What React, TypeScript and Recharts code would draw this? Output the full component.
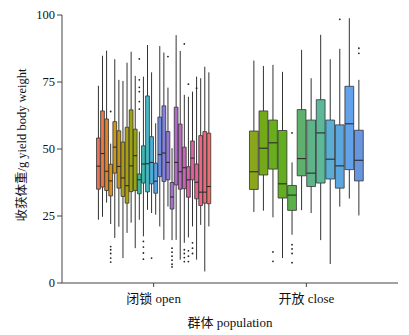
import React from 'react';
import {
  ComposedChart,
  XAxis,
  YAxis,
  Scatter,
  ReferenceArea,
  ReferenceLine,
} from 'recharts';

const FONT = "'Liberation Serif', 'Noto Sans CJK SC', serif";

const groups = ['闭锁 open', '开放 close'];
const yTicks = [0, 25, 50, 75, 100];

// 闭锁 open: 28 families
const openLower = [23.6, 24.7, 30, 22, 16.8, 21, 9.3, 18.7, 22.5, 13, 23.6, 17.4, 27.3, 26.1, 25.5, 21.1, 16.1, 28.5, 16, 16.1, 8.7, 15, 17, 21.1, 8.7, 21.7, 4.3, 21.1];
const openQ1 = [35, 35.8, 34.5, 32.5, 41, 35.4, 32.3, 29.8, 34.1, 34.5, 33.3, 37.3, 34, 37, 33.5, 39.7, 37.9, 38.5, 27.6, 36.6, 35, 35.2, 32, 38.5, 31.4, 28.9, 29.8, 29.6];
const openMedian = [43.6, 48.3, 41.7, 38.1, 50.7, 43.5, 39.2, 36.3, 43.7, 47.5, 38.5, 44.4, 44.5, 45, 38, 47.9, 48.5, 45, 32.1, 45, 41.5, 43, 38.5, 46.6, 37.6, 33.9, 33.9, 36];
const openQ3 = [54.1, 64.2, 61.2, 44.3, 60.2, 56.8, 52.6, 58.1, 64.6, 57.4, 40.7, 51.2, 69.8, 54.6, 44.7, 61.9, 66.1, 56.5, 37.5, 65.6, 59.3, 50.7, 43.4, 53, 44.4, 55, 56.5, 55.9];
const openUpper = [73.6, 84.8, 86.7, 52, 83.5, 75.8, 75.4, 82.2, 86.3, 77.3, 56.5, 77, 88.8, 78.6, 59.6, 88.4, 86, 72.9, 50.3, 92.5, 86.6, 70.2, 69.5, 71.4, 77, 76.4, 80.7, 78.6];
// [family index, value]
const openOutliers: [number, number][] = [
  [3, 64], [3, 13.6], [3, 12.4], [3, 11], [3, 9.3], [3, 7.8],
  [10, 83.6], [10, 75.8], [10, 73], [10, 71.4], [10, 67.7], [10, 64.9],
  [11, 15.5], [11, 13.4], [11, 11.2], [11, 8.9],
  [13, 9.3],
  [17, 84.5],
  [18, 13], [18, 11.5], [18, 10], [18, 8.5], [18, 7], [18, 6],
  [21, 89.2], [21, 12.4], [21, 11], [21, 9.5], [21, 8],
  [22, 74.2], [22, 12], [22, 10], [22, 8],
  [23, 15], [23, 13], [23, 11],
  [24, 72.7],
];

// 开放 close: 12 families
const closeLower = [26.5, 27, 24.5, 9.3, 18, 27.2, 26.1, 16, 7.1, 28.5, 31.5, 25.2];
const closeQ1 = [34.9, 40.3, 42.5, 31.7, 27.1, 40, 36, 37.3, 38.8, 35.4, 42.3, 38.1];
const closeMedian = [41.5, 50.3, 52.3, 37, 32.8, 46.4, 41, 56, 46.2, 43.7, 59.4, 45.8];
const closeQ3 = [56.7, 64.2, 60.8, 56.9, 36.4, 64.7, 60.8, 68.4, 60.8, 59, 73.4, 57];
const closeUpper = [83, 81, 81.4, 78.8, 45, 87, 76.4, 92.6, 83.5, 87.4, 98.8, 75.8];
const closeOutliers: [number, number][] = [
  [2, 11.6], [2, 8.1],
  [4, 56], [4, 14.3], [4, 12.7], [4, 11], [4, 7.6],
  [9, 98.4],
  [11, 87.6], [11, 85.7],
];

const openColors = [
  '#E8735E', '#E97B4A', '#E0842A', '#D8901C', '#CF961A', '#C09515', '#B49A12',
  '#A8A014', '#9CA412', '#96A318', '#3DB59A', '#3CB8AE', '#48B8C8', '#4AB0D8',
  '#56A0E4', '#6E8CE2', '#8282DC', '#9478D4', '#A070CC', '#AE6CC6', '#BB68C0',
  '#C864B6', '#D461AC', '#DE62A0', '#E66494', '#EC6686', '#EE6A7A', '#EE6E6E',
];
const closeColors = [
  '#8AA61C', '#74AA1A', '#6AAE20', '#62AE1E', '#5CB04C', '#5EB06C',
  '#5EB488', '#5CB898', '#5AAED6', '#5CA6E0', '#62A2EA', '#6896DE',
];

const DODGE = 0.75;

function buildBoxes(
  groupPos: number,
  lower: number[], q1: number[], median: number[], q3: number[], upper: number[],
  colors: string[],
) {
  const n = median.length;
  const step = DODGE / n;
  return median.map((m, i) => ({
    x: groupPos + (i + 0.5 - n / 2) * step,
    half: (step * 0.92) / 2,
    lower: lower[i], q1: q1[i], median: m, q3: q3[i], upper: upper[i],
    color: colors[i],
  }));
}

const boxes = [
  ...buildBoxes(1, openLower, openQ1, openMedian, openQ3, openUpper, openColors),
  ...buildBoxes(2, closeLower, closeQ1, closeMedian, closeQ3, closeUpper, closeColors),
];
const openBoxes = boxes.slice(0, openMedian.length);
const closeBoxes = boxes.slice(openMedian.length);

const outlierData = [
  ...openOutliers.map(([i, v]) => ({ x: openBoxes[i].x, y: v })),
  ...closeOutliers.map(([i, v]) => ({ x: closeBoxes[i].x, y: v })),
];

const App: React.FC = () => {
  const tickStyle = { fontSize: 12.5, fill: '#111', fontFamily: FONT };
  return (
    <div style={{ position: 'absolute', left: 0, top: 0, background: '#fff' }}>
      <ComposedChart width={409} height={335} margin={{ top: 15, right: 11, bottom: 0, left: 0 }}>
        <XAxis
          type="number"
          dataKey="x"
          domain={[0.4, 2.6]}
          ticks={[1, 2]}
          allowDataOverflow
          tickFormatter={(v) => groups[Math.round(v) - 1]}
          height={52}
          stroke="#444"
          tickSize={4}
          tickMargin={7}
          tick={{ ...tickStyle, fontSize: 13 }}
          label={{
            content: (props: any) => {
              const vb = props.viewBox || {};
              return (
                <text x={vb.x + vb.width / 2} y={vb.y + 39} textAnchor="middle" dominantBaseline="central" fontSize={13} fontFamily={FONT} fill="#111">
                  群体 population
                </text>
              );
            },
          }}
        />
        <YAxis
          type="number"
          dataKey="y"
          domain={[0, 100]}
          ticks={yTicks}
          allowDataOverflow
          width={62}
          stroke="#444"
          tickSize={5}
          tickMargin={2}
          tick={tickStyle}
          label={{
            content: (props: any) => {
              const vb = props.viewBox || {};
              const cx = vb.x + 21.5;
              const cy = vb.y + vb.height / 2 - 4;
              return (
                <text x={cx} y={cy} textAnchor="middle" dominantBaseline="central" transform={`rotate(-90, ${cx}, ${cy})`} fontSize={12.5} fontFamily={FONT} fill="#111">
                  收获体重/g yield body weight
                </text>
              );
            },
          }}
        />
        {boxes.map((b, i) => (
          <ReferenceLine key={`wu${i}`} segment={[{ x: b.x, y: b.q3 }, { x: b.x, y: b.upper }]} stroke="#333" strokeWidth={1} />
        ))}
        {boxes.map((b, i) => (
          <ReferenceLine key={`wl${i}`} segment={[{ x: b.x, y: b.lower }, { x: b.x, y: b.q1 }]} stroke="#333" strokeWidth={1} />
        ))}
        {boxes.map((b, i) => (
          <ReferenceArea
            key={`bx${i}`}
            x1={b.x - b.half}
            x2={b.x + b.half}
            y1={b.q1}
            y2={b.q3}
            fill={b.color}
            fillOpacity={1}
            stroke="#333"
            strokeWidth={0.8}
          />
        ))}
        {boxes.map((b, i) => (
          <ReferenceLine key={`md${i}`} segment={[{ x: b.x - b.half, y: b.median }, { x: b.x + b.half, y: b.median }]} stroke="#222" strokeWidth={1} />
        ))}
        <Scatter
          data={outlierData}
          isAnimationActive={false}
          shape={(p: any) => <circle cx={p.cx} cy={p.cy} r={0.9} fill="#222" />}
        />
      </ComposedChart>
    </div>
  );
};

export default App;
